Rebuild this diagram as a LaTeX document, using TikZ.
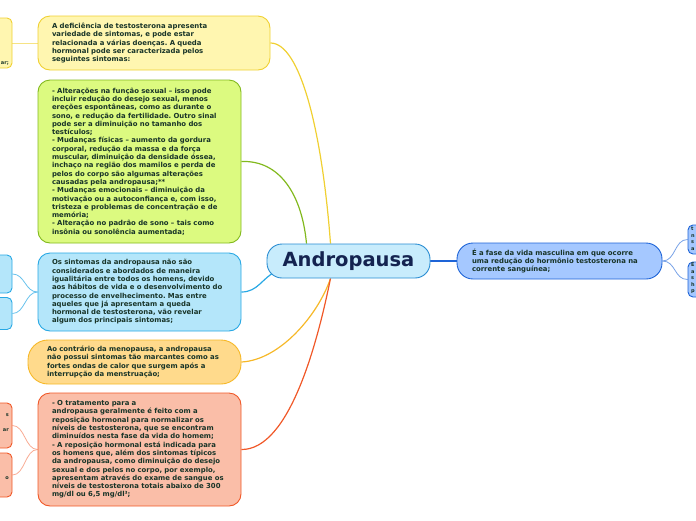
\documentclass[tikz,border=0pt]{standalone}
\usepackage{fontspec}
\setmainfont{DejaVu Sans}
\usetikzlibrary{backgrounds}
\frenchspacing

\definecolor{notetext}{RGB}{24,52,40}
\definecolor{hubtext}{RGB}{20,35,80}
\definecolor{yelfill}{RGB}{255,246,176}
\definecolor{yelline}{RGB}{240,208,50}
\definecolor{grnfill}{RGB}{220,250,128}
\definecolor{grnline}{RGB}{130,185,30}
\definecolor{blufill}{RGB}{180,230,250}
\definecolor{bluline}{RGB}{40,168,228}
\definecolor{orafill}{RGB}{255,218,140}
\definecolor{oraline}{RGB}{246,184,40}
\definecolor{salfill}{RGB}{250,190,168}
\definecolor{salline}{RGB}{240,88,40}
\definecolor{hubfill}{RGB}{200,236,252}
\definecolor{hubline}{RGB}{40,140,210}
\definecolor{rgtfill}{RGB}{165,200,255}
\definecolor{rgtline}{RGB}{30,100,215}

\begin{document}
\begin{tikzpicture}[x=1pt, y=-1pt,
  note/.style={draw, line width=0.9pt, rounded corners=12pt, inner xsep=14pt,
               inner ysep=2pt, align=left, text=notetext,
               font=\fontsize{6.9}{8.3}\selectfont\bfseries},
  stub/.style={draw, line width=0.9pt, rounded corners=5pt, minimum width=40pt},
  frag/.style={font=\fontsize{5}{6.5}\selectfont\bfseries, text=notetext, inner sep=0pt},
  link/.style={line width=1.2pt},
  twig/.style={line width=0.8pt}
]
  \useasboundingbox (0,0) rectangle (696,520);
  \clip (0,0) rectangle (696,520);

  % central topic
  \node[draw=hubline, fill=hubfill, line width=0.9pt, rounded corners=15pt,
        minimum width=163pt, minimum height=34pt, text=hubtext,
        font=\fontsize{19.5}{22}\selectfont\bfseries] (andro) at (348.5,261) {Andropausa};

  % main branches
  \node[note, fill=yelfill, draw=yelline, minimum width=232pt, minimum height=54pt,
        text width=204pt] (deficit) at (154,43)
    {A deficiência de testosterona apresenta\\
     variedade de sintomas, e pode estar\\
     relacionada a várias doenças. A queda\\
     hormonal pode ser caracterizada pelos\\
     seguintes sintomas:};
  \node[note, fill=grnfill, draw=grnline, minimum width=203pt, minimum height=163pt,
        text width=175pt] (changes) at (139.5,161.5)
    {- Alterações na função sexual – isso pode\\
     incluir redução do desejo sexual, menos\\
     ereções espontâneas, como as durante o\\
     sono, e redução da fertilidade. Outro sinal\\
     pode ser a diminuição no tamanho dos\\
     testículos;\\
     - Mudanças físicas – aumento da gordura\\
     corporal, redução da massa e da força\\
     muscular, diminuição da densidade óssea,\\
     inchaço na região dos mamilos e perda de\\
     pelos do corpo são algumas alterações\\
     causadas pela andropausa;**\\
     - Mudanças emocionais – diminuição da\\
     motivação ou a autoconfiança e, com isso,\\
     tristeza e problemas de concentração e de\\
     memória;\\
     - Alteração no padrão de sono – tais como\\
     insônia ou sonolência aumentada;};
  \node[note, fill=blufill, draw=bluline, minimum width=203pt, minimum height=78pt,
        text width=175pt] (symptoms) at (139.5,292)
    {Os sintomas da andropausa não são\\
     considerados e abordados de maneira\\
     igualitária entre todos os homens, devido\\
     aos hábitos de vida e o desenvolvimento do\\
     processo de envelhecimento. Mas entre\\
     aqueles que já apresentam a queda\\
     hormonal de testosterona, vão revelar\\
     algum dos principais sintomas;};
  \node[note, fill=orafill, draw=oraline, rounded corners=20pt, inner xsep=19pt,
        minimum width=213pt, minimum height=44pt, text width=175pt] (menopause) at (134.5,362)
    {Ao contrário da menopausa, a andropausa\\
     não possui sintomas tão marcantes como as\\
     fortes ondas de calor que surgem após a\\
     interrupção da menstruação;};
  \node[note, fill=salfill, draw=salline, minimum width=203pt, minimum height=113pt,
        text width=175pt] (treatment) at (139.5,449.5)
    {- O tratamento para a\\
     andropausa geralmente é feito com a\\
     reposição hormonal para normalizar os\\
     níveis de testosterona, que se encontram\\
     diminuídos nesta fase da vida do homem;\\
     - A reposição hormonal está indicada para\\
     os homens que, além dos sintomas típicos\\
     da andropausa, como diminuição do desejo\\
     sexual e dos pelos no corpo, por exemplo,\\
     apresentam através do exame de sangue os\\
     níveis de testosterona totais abaixo de 300\\
     mg/dl ou 6,5 mg/dl³;};
  \node[note, fill=rgtfill, draw=rgtline, rounded corners=16pt, inner xsep=15pt,
        minimum width=205pt, minimum height=36pt, text width=175pt] (phase) at (559.5,261)
    {É a fase da vida masculina em que ocorre\\
     uma redução do hormônio testosterona na\\
     corrente sanguínea;};

  % cut-off sub-branches at the edges
  \node[stub, fill=yelfill, draw=yelline, minimum height=50pt] (yelstub) at (-8,43) {};
  \node[frag, anchor=east] (yelfrag) at (9,63) {ar;};
  \node[stub, fill=blufill, draw=bluline, minimum height=38pt] (blustubA) at (-8,274) {};
  \node[stub, fill=blufill, draw=bluline, minimum height=32pt] (blustubB) at (-8,313.5) {};
  \node[stub, fill=salfill, draw=salline, minimum height=45pt] (salstubA) at (-8,425.5) {};
  \node[stub, fill=salfill, draw=salline, minimum height=44pt] (salstubB) at (-8,475) {};
  \node[frag, anchor=east] (salfragA) at (9,415) {s};
  \node[frag, anchor=east] (salfragB) at (9,430) {ar};
  \node[frag, anchor=east] (salfragC) at (9,478) {o};
  \node[stub, fill=rgtfill, draw=rgtline, minimum height=29pt] (rgtstubA) at (708,239.5) {};
  \node[stub, fill=rgtfill, draw=rgtline, minimum height=35pt] (rgtstubB) at (708,279.5) {};
  \node[frag, anchor=north west, align=left] (rgtfragA) at (691,227) {t\\n\\s\\a};
  \node[frag, anchor=north west, align=left] (rgtfragB) at (691,263) {E\\a\\s\\h\\p};

  \begin{scope}[on background layer]
    \draw[link, draw=yelline] (deficit.east) .. controls (300,43) and (322,130) .. ([xshift=-18pt]andro.north);
    \draw[link, draw=grnline] (changes.east) .. controls (280,160) and (302,195) .. ([xshift=-42pt]andro.north);
    \draw[link, draw=bluline] (symptoms.east) .. controls (258,292) and (262,278) .. ([xshift=10pt,yshift=-10pt]andro.west);
    \draw[link, draw=oraline] (menopause.east) .. controls (280,360) and (318,315) .. ([xshift=-18pt]andro.south);
    \draw[link, draw=salline] (treatment.east) .. controls (290,450) and (318,340) .. ([xshift=-18pt]andro.south);
    \draw[link, draw=rgtline] (andro.east) -- (phase.west);

    \draw[twig, draw=yelline!60] (yelstub.east) -- (deficit.west);
    \draw[twig, draw=bluline!70] (symptoms.west) .. controls (25,292) and (25,274) .. (blustubA.east);
    \draw[twig, draw=bluline!70] (symptoms.west) .. controls (25,292) and (25,313.5) .. (blustubB.east);
    \draw[twig, draw=salline!50] (treatment.west) .. controls (25,449.5) and (25,425.5) .. (salstubA.east);
    \draw[twig, draw=salline!50] (treatment.west) .. controls (25,449.5) and (25,475) .. (salstubB.east);
    \draw[twig, draw=rgtline!60] (phase.east) .. controls (676,261) and (674,239.5) .. (rgtstubA.west);
    \draw[twig, draw=rgtline!60] (phase.east) .. controls (676,261) and (674,279.5) .. (rgtstubB.west);
  \end{scope}
\end{tikzpicture}
\end{document}
